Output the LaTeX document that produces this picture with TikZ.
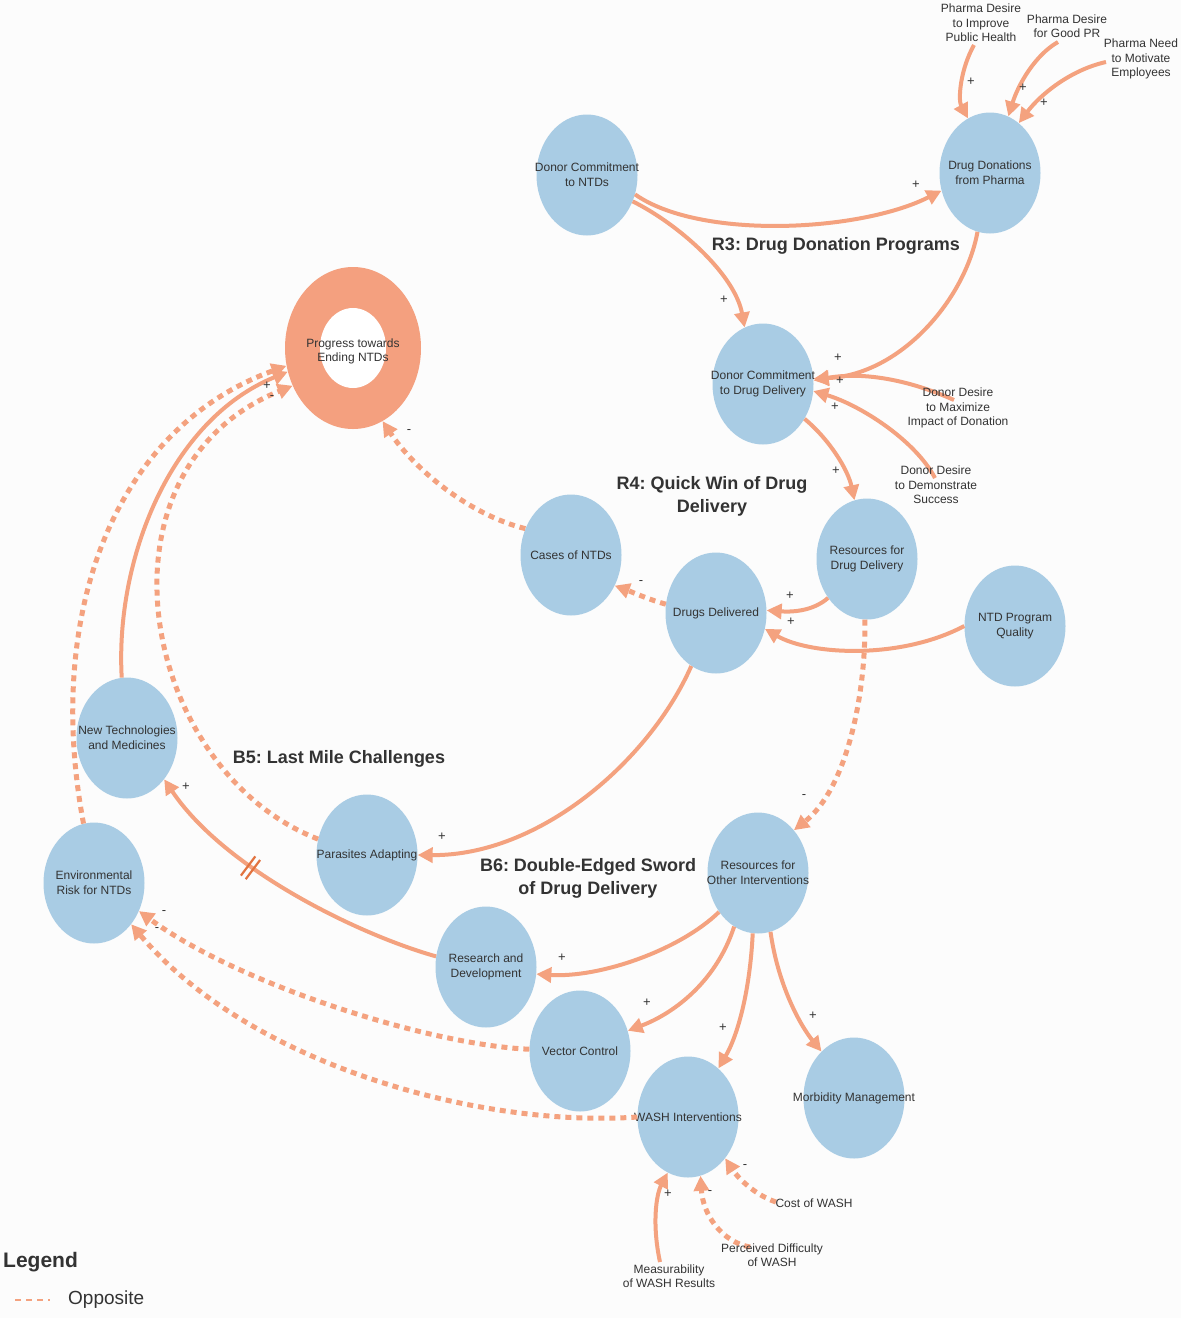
\documentclass[tikz,border=0pt]{standalone}
\usepackage{fontspec}
\setmainfont{Liberation Sans}
\usetikzlibrary{arrows.meta,shapes.geometric}
\definecolor{nodeblue}{HTML}{A9CCE4}
\definecolor{edgeor}{HTML}{F4A27F}
\definecolor{ringor}{HTML}{F4A07F}
\definecolor{hashor}{HTML}{E2733F}
\definecolor{txt}{HTML}{333333}
\definecolor{bg}{HTML}{FCFCFC}
\frenchspacing
\begin{document}
\begin{tikzpicture}[x=1pt,y=-1pt,
  var/.style={ellipse,fill=nodeblue,minimum width=101pt,minimum height=121pt,inner xsep=-32pt,inner ysep=0pt,align=center,text=txt,font=\fontsize{12}{15}\selectfont},
  lbl/.style={align=center,text=txt,font=\fontsize{12}{14.5}\selectfont,inner sep=0pt},
  loopt/.style={align=center,text=txt,font=\bfseries\fontsize{18}{23}\selectfont,inner sep=0pt},
  sgn/.style={text=txt,font=\fontsize{13}{13}\selectfont,inner sep=0pt},
  link/.style={draw=edgeor,line width=4pt,-{Triangle[length=15pt,width=15pt]}},
  opp/.style={link,line width=5pt,dash pattern=on 6pt off 5pt}
]
\useasboundingbox (0,0) rectangle (1181,1318);
\fill[bg] (0,0) rectangle (1181,1318);

% variables
\node[var] (dcn) at (587,175) {Donor Commitment\\to NTDs};
\node[var] (dd) at (990,173) {Drug Donations\\from Pharma};
\node[var] (dcdd) at (763,384) {Donor Commitment\\to Drug Delivery};
\node[var] (rdd) at (867,559) {Resources for\\Drug Delivery};
\node[var] (cas) at (571,555) {Cases of NTDs};
\node[var] (ddl) at (716,613) {Drugs Delivered};
\node[var] (ntd) at (1015,626) {NTD Program\\Quality};
\node[var] (ntm) at (127,738) {New Technologies\\and Medicines};
\node[var] (env) at (94,883) {Environmental\\Risk for NTDs};
\node[var] (par) at (367,855) {Parasites Adapting};
\node[var] (roi) at (758,873) {Resources for\\Other Interventions};
\node[var] (rnd) at (486,967) {Research and\\Development};
\node[var] (vc) at (580,1051) {Vector Control};
\node[var] (wash) at (688,1117) {WASH Interventions};
\node[var] (mm) at (854,1098) {Morbidity Management};

\node[ellipse,fill=ringor,minimum width=136pt,minimum height=162pt,inner sep=0pt] (prog) at (353,348) {};
\fill[white] (353,348) ellipse [x radius=33pt, y radius=40pt];
\node[align=center,text=txt,font=\fontsize{12}{14}\selectfont,inner sep=0pt] (progt) at (353,351) {Progress towards\\Ending NTDs};

% free ends
\coordinate (s1) at (974,45);
\coordinate (s2) at (1058,42);
\coordinate (s3) at (1106,62);
\coordinate (s7) at (954,400);
\coordinate (s8) at (935,478);
\coordinate (s26) at (660,1262);
\coordinate (s27) at (750,1247);
\coordinate (s28) at (776,1202);

% connectors
\draw[link] (s1) .. controls (960,70) and (958,100) .. (dd.112);
\draw[link] (s2) .. controls (1035,55) and (1018,85) .. (dd.72);
\draw[link] (s3) .. controls (1070,70) and (1040,95) .. (dd.60);
\draw[link] (dcn.-22) .. controls (700,240) and (860,232) .. (dd.200);
\draw[link] (dcn.-30) .. controls (680,225) and (735,275) .. (dcdd.108);
\draw[link] (dd.258) .. controls (965,300) and (900,375) .. (dcdd.6);
\draw[link] (s7) .. controls (905,378) and (860,372) .. (dcdd.4);
\draw[link] (s8) .. controls (915,440) and (860,405) .. (dcdd.-8);
\draw[link] (dcdd.-40) .. controls (830,440) and (848,470) .. (rdd.102);
\draw[link] (rdd.225) .. controls (812,612) and (790,612) .. (ddl.3);
\draw[link] (ntd.180) .. controls (900,660) and (810,655) .. (ddl.-18);
\draw[opp] (ddl.170) .. controls (650,600) and (632,592) .. (cas.-35);
\draw[opp] (cas.150) .. controls (470,515) and (415,470) .. (prog.-68);
\draw[opp] (rdd.-92) .. controls (866,700) and (845,790) .. (roi.50);
\draw[link] (ddl.245) .. controls (650,760) and (540,856) .. (par.0);
\draw[opp] (par.162) .. controls (140,770) and (85,470) .. (prog.212);
\draw[link] (ntm.95) .. controls (115,560) and (170,420) .. (prog.200);
\draw[opp] (env.100) .. controls (45,620) and (110,430) .. (prog.195);
\draw[link] (roi.225) .. controls (680,950) and (600,978) .. (rnd.-8);
\draw[link] (rnd.168) .. controls (360,935) and (225,870) .. (ntm.-48);
\draw[link] (roi.246) .. controls (715,985) and (670,1015) .. (vc.23);
\draw[link] (roi.265) .. controls (750,990) and (738,1035) .. (wash.58);
\draw[link] (roi.-78) .. controls (778,985) and (800,1025) .. (mm.125);
\draw[opp] (vc.178) .. controls (430,1045) and (240,985) .. (env.-32);
\draw[opp] (wash.180) .. controls (480,1128) and (250,1065) .. (env.-48);
\draw[link] (s26) .. controls (652,1225) and (656,1195) .. (wash.-110);
\draw[opp] (s27) .. controls (722,1242) and (703,1215) .. (wash.-78);
\draw[opp] (s28) .. controls (755,1195) and (738,1178) .. (wash.-48);

% delay mark on R&D -> New Technologies
\draw[hashor,line width=2.2pt] (255.3,856.4) -- (240.9,875.6) (260.1,860.0) -- (245.7,879.2);

% free labels
\node[lbl] (l1) at (981,23) {Pharma Desire\\to Improve\\Public Health};
\node[lbl] (l2) at (1067,26) {Pharma Desire\\for Good PR};
\node[lbl] (l3) at (1141,59) {Pharma Need\\to Motivate\\Employees};
\node[lbl] (l7) at (958,408) {Donor Desire\\to Maximize\\Impact of Donation};
\node[lbl] (l8) at (936,485) {Donor Desire\\to Demonstrate\\Success};
\node[lbl] (l28) at (814,1203) {Cost of WASH};
\node[lbl] (l27) at (772,1255) {Perceived Difficulty\\of WASH};
\node[lbl] (l26) at (669,1276) {Measurability\\of WASH Results};

% loop titles
\node[loopt] (r3) at (836,246) {R3: Drug Donation Programs};
\node[loopt] (r4) at (712,496) {R4: Quick Win of Drug\\Delivery};
\node[loopt] (b5) at (339,759) {B5: Last Mile Challenges};
\node[loopt] (b6) at (588,878) {B6: Double-Edged Sword\\of Drug Delivery};

% polarity signs
\node[sgn] (p1) at (971,82) {+};
\node[sgn] (p2) at (1023,88) {+};
\node[sgn] (p3) at (1044,103) {+};
\node[sgn] (p4) at (916,185) {+};
\node[sgn] (p5) at (724,300) {+};
\node[sgn] (p6) at (838,358) {+};
\node[sgn] (p7) at (840,381) {+};
\node[sgn] (p8) at (835,407) {+};
\node[sgn] (p9) at (836,471) {+};
\node[sgn] (p10) at (790,596) {+};
\node[sgn] (p11) at (791,622) {+};
\node[sgn] (p12) at (641,583) {-};
\node[sgn] (p13) at (409,432) {-};
\node[sgn] (p14) at (804,797) {-};
\node[sgn] (p15) at (442,837) {+};
\node[sgn] (p16) at (267,386) {+};
\node[sgn] (p17) at (272,398) {-};
\node[sgn] (p18) at (562,958) {+};
\node[sgn] (p19) at (186,787) {+};
\node[sgn] (p20) at (647,1003) {+};
\node[sgn] (p21) at (723,1028) {+};
\node[sgn] (p22) at (813,1016) {+};
\node[sgn] (p23) at (164,913) {-};
\node[sgn] (p24) at (157,930) {-};
\node[sgn] (p25) at (668,1194) {+};
\node[sgn] (p26) at (710,1193) {-};
\node[sgn] (p27) at (745,1167) {-};

% legend
\node[anchor=west,text=txt,font=\bfseries\fontsize{21}{21}\selectfont,inner sep=0pt] (leg) at (3,1262) {Legend};
\coordinate (lg1) at (15,1300);
\coordinate (lg2) at (50,1300);
\draw[edgeor,line width=2.5pt,dash pattern=on 6pt off 5pt] (lg1) -- (lg2);
\node[anchor=west,text=txt,font=\fontsize{19}{19}\selectfont,inner sep=0pt] (opl) at (68,1300) {Opposite};
\end{tikzpicture}
\end{document}
